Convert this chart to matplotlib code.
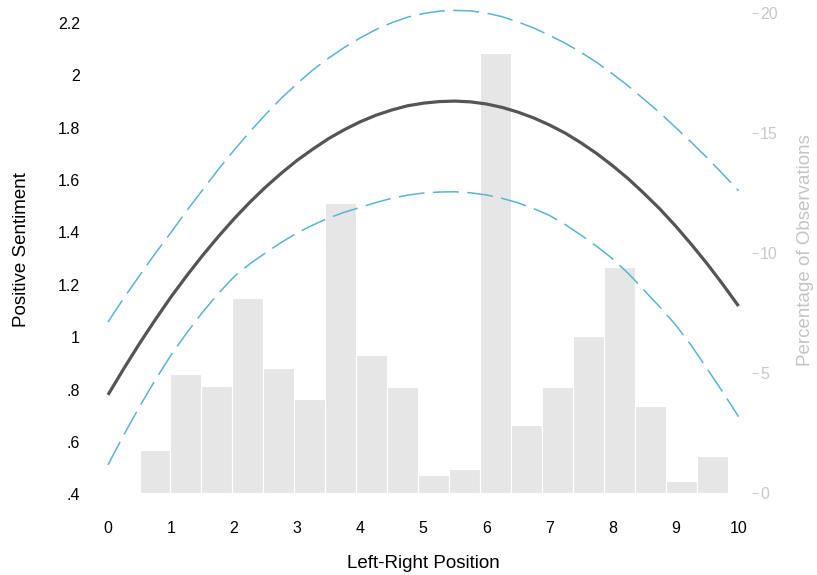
import numpy as np
import matplotlib
matplotlib.use("Agg")
import matplotlib.pyplot as plt

plt.rcParams["font.family"] = ["Liberation Sans", "DejaVu Sans"]

# ===== DATA =====

# histogram of left-right self placement (percent of respondents)
bin_start = 0.5
bin_width = 0.491
pct_obs = [1.82, 4.95, 4.45, 8.13, 5.23, 3.92, 12.06, 5.74, 4.42, 0.75,
           1.01, 18.34, 2.86, 4.42, 6.53, 9.42, 3.65, 0.50, 1.54]

# predicted positive sentiment with 95% CI, every quarter point
lr_pos = [0.0, 0.25, 0.5, 0.75, 1.0, 1.25, 1.5, 1.75, 2.0, 2.25,
          2.5, 2.75, 3.0, 3.25, 3.5, 3.75, 4.0, 4.25, 4.5, 4.75,
          5.0, 5.25, 5.5, 5.75, 6.0, 6.25, 6.5, 6.75, 7.0, 7.25,
          7.5, 7.75, 8.0, 8.25, 8.5, 8.75, 9.0, 9.25, 9.5, 9.75, 10.0]
pred = [0.780, 0.880, 0.976, 1.067, 1.154, 1.235, 1.312, 1.384, 1.452, 1.515,
        1.573, 1.626, 1.675, 1.718, 1.758, 1.792, 1.822, 1.847, 1.867, 1.883,
        1.893, 1.899, 1.901, 1.898, 1.890, 1.877, 1.859, 1.837, 1.810, 1.779,
        1.742, 1.701, 1.655, 1.605, 1.549, 1.490, 1.425, 1.355, 1.281, 1.202, 1.119]
ci_hi = [1.058, 1.149, 1.235, 1.320, 1.400, 1.483, 1.562, 1.640, 1.714, 1.784,
         1.850, 1.912, 1.968, 2.020, 2.065, 2.106, 2.142, 2.174, 2.200, 2.221,
         2.235, 2.244, 2.247, 2.245, 2.237, 2.223, 2.203, 2.180, 2.152, 2.122,
         2.087, 2.049, 2.005, 1.959, 1.908, 1.857, 1.801, 1.744, 1.685, 1.623, 1.559]
ci_lo = [0.513, 0.627, 0.735, 0.837, 0.932, 1.017, 1.095, 1.167, 1.231, 1.280,
         1.322, 1.362, 1.398, 1.428, 1.455, 1.477, 1.495, 1.514, 1.530, 1.542,
         1.550, 1.554, 1.555, 1.551, 1.543, 1.530, 1.513, 1.491, 1.465, 1.430,
         1.390, 1.347, 1.300, 1.244, 1.180, 1.116, 1.048, 0.969, 0.880, 0.791, 0.697]

x_ticks = list(range(0, 11))
y_ticks = [0.4, 0.6, 0.8, 1.0, 1.2, 1.4, 1.6, 1.8, 2.0, 2.2]
y_tick_labels = [".4", ".6", ".8", "1", "1.2", "1.4", "1.6", "1.8", "2", "2.2"]
pct_ticks = [0, 5, 10, 15, 20]

# ===== PLOT =====

W, H = 817, 575
fig = plt.figure(figsize=(W / 100, H / 100), dpi=100)
left_px, right_px, top_px, bottom_px = 96, 752, 5, 495
ax = fig.add_axes([left_px / W, 1 - bottom_px / H,
                   (right_px - left_px) / W, (bottom_px - top_px) / H])
ax2 = ax.twinx()

# bars go on the right axis, lines on the left axis drawn above them
lefts = bin_start + bin_width * np.arange(len(pct_obs))
ax2.bar(lefts, pct_obs, width=bin_width, align="edge",
        color="#e6e6e6", edgecolor="white", linewidth=0.8)

ax.set_zorder(ax2.get_zorder() + 1)
ax.patch.set_visible(False)

blue = "#5ab3d5"
ax.plot(lr_pos, ci_hi, color=blue, lw=1.1, dashes=(17, 5.5))
ax.plot(lr_pos, ci_lo, color=blue, lw=1.1, dashes=(17, 5.5))
ax.plot(lr_pos, pred, color="#555555", lw=2.3,
        solid_capstyle="butt", solid_joinstyle="round")

ax.set_xlim(-0.190, 10.214)
ax.set_ylim(0.398, 2.2676)
ax2.set_ylim(-0.07, 20.32)

ax.set_xticks(x_ticks)
ax.set_yticks(y_ticks)
ax.set_yticklabels(y_tick_labels)
ax2.set_yticks(pct_ticks)

for a in (ax, ax2):
    for s in a.spines.values():
        s.set_visible(False)

ax.tick_params(axis="x", length=0, pad=19, labelsize=11.5)
ax.tick_params(axis="y", length=0, pad=11.5, labelsize=11.5)
ax2.tick_params(axis="y", length=4.3, width=0.8, pad=1.5, labelsize=11.5,
                color="#d0d0d0", labelcolor="#c8c8c8")

ax.set_xlabel("Left-Right Position", fontsize=13.5)
ax.xaxis.set_label_coords(0.499, -0.139)
ax.xaxis.label.set_va("center")

ax.set_ylabel("Positive Sentiment", fontsize=13.5)
ax.yaxis.set_label_coords(-0.113, 0.5)
ax.yaxis.label.set_va("center")

ax2.set_ylabel("Percentage of Observations", fontsize=13.5, color="#c4c4c4")
ax2.yaxis.set_label_coords(1.082, 0.5)
ax2.yaxis.label.set_va("center")

fig.savefig("out.png", dpi=100)
